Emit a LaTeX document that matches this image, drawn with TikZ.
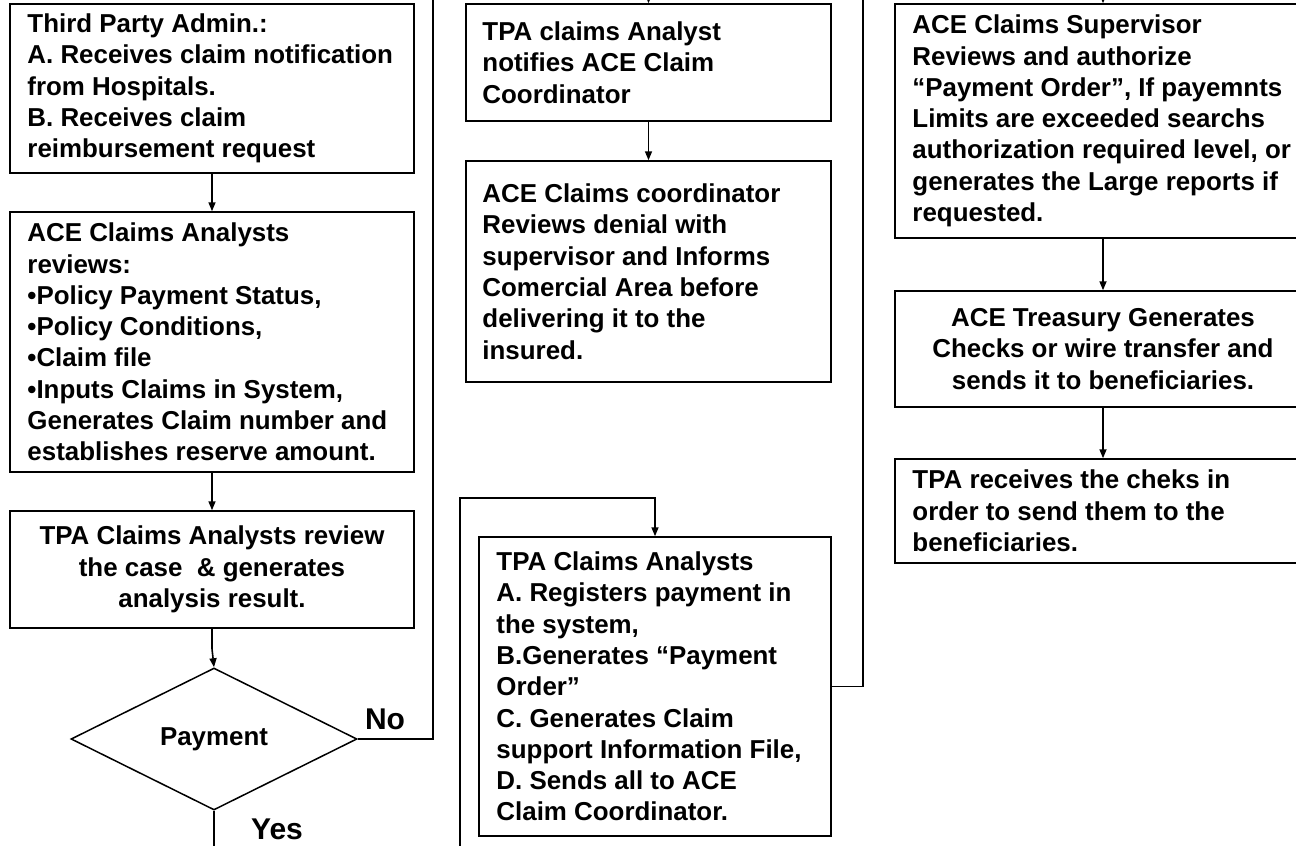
\documentclass[tikz,border=0pt]{standalone}
\usepackage{fontspec}
\setmainfont{Liberation Sans}
\usetikzlibrary{arrows.meta,shapes.geometric}
\begin{document}
\begin{tikzpicture}[x=1pt,y=-1pt,
  box/.style={draw=black,line width=1.5pt,rectangle,inner sep=0pt},
  txt/.style={inner sep=0pt,align=left,font=\fontsize{25.9}{31.3}\selectfont\bfseries,anchor=west},
  ctxt/.style={inner sep=0pt,align=center,font=\fontsize{25.9}{31.3}\selectfont\bfseries},
  lbl/.style={inner sep=0pt,font=\fontsize{30}{30}\selectfont\bfseries,anchor=base},
  conn/.style={line width=1.6pt},
  arr/.style={conn,-{Triangle[length=9pt,width=7pt]}}]
\useasboundingbox (0,0) rectangle (1296,846);
\clip (0,0) rectangle (1296,846);

% left column
\node[box,minimum width=404pt,minimum height=169pt] (b1) at (212,88.5) {};
\node[txt] (t1) at ([xshift=18pt]b1.west) {Third Party Admin.:\\A. Receives claim notification\\from Hospitals.\\B. Receives claim\\reimbursement request};
\node[box,minimum width=404pt,minimum height=260pt] (b2) at (212,342) {};
\node[txt] (t2) at ([xshift=18pt]b2.west) {ACE Claims Analysts\\reviews:\\•Policy Payment Status,\\•Policy Conditions,\\•Claim file\\•Inputs Claims in System,\\Generates Claim number and\\establishes reserve amount.};
\node[box,minimum width=404pt,minimum height=117pt] (b3) at (212,569.5) {};
\node[ctxt] (t3) at (b3.center) {TPA Claims Analysts review\\the case \ \& generates\\analysis result.};
\node[draw,diamond,line width=1.5pt,minimum width=286pt,minimum height=142pt,inner sep=0pt,aspect=2,font=\fontsize{25.9}{31.3}\selectfont\bfseries] (d) at (214,739) {Payment};
\node[lbl] (no) at (385,729) {No};
\node[lbl] (yes) at (277,839) {Yes};

% middle column
\node[box,minimum width=365pt,minimum height=117pt] (b4) at (648.5,62.5) {};
\node[txt] (t4) at ([xshift=17pt]b4.west) {TPA claims Analyst\\notifies ACE Claim\\Coordinator};
\node[box,minimum width=365pt,minimum height=221pt] (b5) at (648.5,271.5) {};
\node[txt] (t5) at ([xshift=17pt]b5.west) {ACE Claims coordinator\\Reviews denial with\\supervisor and Informs\\Comercial Area before\\delivering it to the\\insured.};
\node[box,minimum width=352pt,minimum height=299pt] (b6) at (655,686.5) {};
\node[txt] (t6) at ([xshift=18pt]b6.west) {TPA Claims Analysts\\A. Registers payment in\\the system,\\B.Generates “Payment\\Order”\\C. Generates Claim\\support Information File,\\D. Sends all to ACE\\Claim Coordinator.};

% right column
\node[box,minimum width=416pt,minimum height=234pt] (b7) at (1103,121) {};
\node[txt] (t7) at ([xshift=18pt]b7.west) {ACE Claims Supervisor\\Reviews and authorize\\“Payment Order”, If payemnts\\Limits are exceeded searchs\\authorization required level, or\\generates the Large reports if\\requested.};
\node[box,minimum width=416pt,minimum height=116pt] (b8) at (1103,349) {};
\node[ctxt] (t8) at (b8.center) {ACE Treasury Generates\\Checks or wire transfer and\\sends it to beneficiaries.};
\node[box,minimum width=416pt,minimum height=104pt] (b9) at (1103,511) {};
\node[txt] (t9) at ([xshift=18pt]b9.west) {TPA receives the cheks in\\order to send them to the\\beneficiaries.};

% free ends at the picture edges
\coordinate (topL) at (433,0);
\coordinate (botL) at (214,846);
\coordinate (topM) at (648.5,0);
\coordinate (botM) at (460,846);
\coordinate (loopM) at (655,498);
\coordinate (topR) at (863,0);
\coordinate (topRR) at (1103,0);

% connectors
\draw[arr] (b1.south) -- (b2.north);
\draw[arr] (b2.south) -- (b3.north);
\draw[arr] (b3.south) -- ++(0,20) -- (d.north);
\draw[conn] (d.east) -| (topL);
\draw[conn] (d.south) -- (botL);
\draw[arr] (topM) -- (b4.north);
\draw[arr] (b4.south) -- (b5.north);
\draw[arr] (botM) |- (loopM) -- (b6.north);
\draw[conn] (b6.east) -| (topR);
\draw[arr] (topRR) -- (b7.north);
\draw[arr] (b7.south) -- (b8.north);
\draw[arr] (b8.south) -- (b9.north);
\end{tikzpicture}
\end{document}
